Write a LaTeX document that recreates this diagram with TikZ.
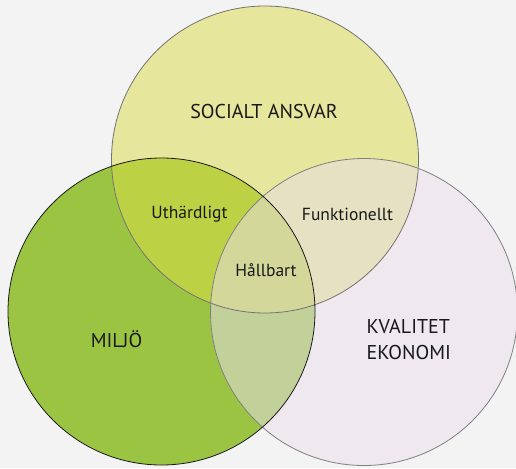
\documentclass[tikz,border=0pt]{standalone}
\usepackage{fontspec}
\setmainfont{PT Sans}
\definecolor{bgc}{HTML}{F3F3F3}
\definecolor{cL}{HTML}{9CC443}
\definecolor{cT}{HTML}{E6E69C}
\definecolor{cR}{HTML}{EFE8EF}
\definecolor{cTL}{HTML}{BDD144}
\definecolor{cTR}{HTML}{E7E1C3}
\definecolor{cLR}{HTML}{C2D199}
\definecolor{cTLR}{HTML}{D3D799}
\tikzset{
  big/.style={font=\fontsize{20}{26}\selectfont, text=black!90},
  small/.style={font=\fontsize{17.5}{20}\selectfont, text=black!90},
}
\begin{document}
\begin{tikzpicture}[x=1pt,y=-1pt]
\fill[bgc] (0,0) rectangle (516,468);
\useasboundingbox (0,0) rectangle (516,468);
\def\rr{153.5}
\coordinate (cT) at (265,159.5);
\coordinate (cL) at (161.5,311.5);
\coordinate (cR) at (364,312);
% base fills
\fill[cL] (cL) circle[radius=\rr];
\fill[cR] (cR) circle[radius=\rr];
\fill[cT] (cT) circle[radius=\rr];
% pairwise overlaps
\begin{scope}
  \clip (cT) circle[radius=\rr];
  \fill[cTL] (cL) circle[radius=\rr];
  \fill[cTR] (cR) circle[radius=\rr];
\end{scope}
\begin{scope}
  \clip (cL) circle[radius=\rr];
  \fill[cLR] (cR) circle[radius=\rr];
  \clip (cT) circle[radius=\rr];
  \fill[cTLR] (cR) circle[radius=\rr];
\end{scope}
% outlines
\draw[black!55, line width=0.8pt] (cT) circle[radius=\rr];
\draw[black!50, line width=0.8pt] (cR) circle[radius=\rr];
\draw[black!90, line width=0.8pt] (cL) circle[radius=\rr];
% labels
\node[big] (soc) at (264,111) {SOCIALT ANSVAR};
\node[big] (mil) at (116.5,339) {MILJÖ};
\node[big, align=left, anchor=west] (kva) at (363,340) {KVALITET\\EKONOMI};
\node[small] (uth) at (189.5,214) {Uthärdligt};
\node[small] (fun) at (347.5,214) {Funktionellt};
\node[small] (hal) at (266,270) {Hållbart};
\end{tikzpicture}
\end{document}
